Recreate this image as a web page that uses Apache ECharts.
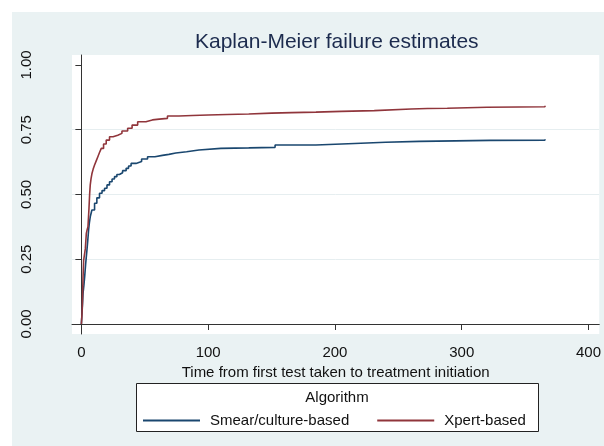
<!DOCTYPE html>
<html>
<head>
<meta charset="utf-8">
<script src="https://cdn.jsdelivr.net/npm/echarts@6/dist/echarts.min.js"></script>
<style>
  html, body { margin: 0; padding: 0; background: #fff; }
  #bg { position: absolute; left: 12px; top: 12px; width: 592px; height: 434px; background: #eaf2f3; }
  #main { position: absolute; left: 0; top: 0; width: 604px; height: 446px; }
</style>
</head>
<body>
<div id="bg"></div>
<div id="main"></div>
<script>
// Kaplan-Meier failure estimates (time in days, cumulative failure)
const smearTime = [0, 0.7, 1.3, 2, 2.6, 3.4, 4.4, 5, 5.7, 6.3, 7, 8.3, 10.4, 12.2, 14.3, 16.3, 18.3, 20.2, 22.2, 24.2, 26.1, 28, 30, 32.5, 35.3, 37.2, 39.2, 43.1, 47.5, 52.2, 58, 63.9, 69, 74.5, 83, 92.7, 110, 132, 152.8, 185, 215.5, 240, 266.5, 295, 322.6, 365.7];
const smearProb = [0, 0.06, 0.118, 0.15, 0.183, 0.234, 0.286, 0.32, 0.363, 0.39, 0.414, 0.44, 0.466, 0.487, 0.505, 0.515, 0.524, 0.537, 0.549, 0.56, 0.569, 0.577, 0.584, 0.592, 0.601, 0.61, 0.62, 0.627, 0.637, 0.646, 0.651, 0.655, 0.66, 0.665, 0.672, 0.678, 0.68, 0.682, 0.691, 0.697, 0.702, 0.705, 0.707, 0.709, 0.71, 0.713];
const xpertTime = [0, 0.5, 0.8, 1.3, 1.8, 2.5, 3.1, 3.9, 4.6, 5.2, 6, 6.5, 7, 7.6, 8.3, 9.3, 10.4, 11.7, 13, 14.3, 15.7, 17.5, 19.6, 22.2, 25, 28.7, 32, 36.5, 40, 44.4, 50.9, 56, 61.4, 67.9, 77, 87.5, 100, 115, 132, 150, 165.8, 185, 205, 231, 260, 273, 288.6, 320, 344.8, 365.7];
const xpertProb = [0, 0.04, 0.08, 0.18, 0.247, 0.27, 0.29, 0.35, 0.365, 0.376, 0.447, 0.5, 0.537, 0.56, 0.58, 0.598, 0.614, 0.63, 0.646, 0.662, 0.678, 0.695, 0.71, 0.723, 0.729, 0.736, 0.745, 0.756, 0.768, 0.781, 0.788, 0.791, 0.794, 0.803, 0.805, 0.807, 0.809, 0.811, 0.814, 0.816, 0.818, 0.821, 0.824, 0.83, 0.832, 0.833, 0.837, 0.838, 0.839, 0.843];
const xTicks = [0, 100, 200, 300, 400];
const yTicks = [0, 0.25, 0.5, 0.75, 1];
const seriesNames = ["Smear/culture-based", "Xpert-based"];

function pairs(t, p) {
  return t.map((v, i) => [v, p[i]]);
}

const font = "Liberation Sans, Arial, sans-serif";
const myChart = echarts.init(document.getElementById("main"));

myChart.setOption({
  animation: false,
  color: ["#1a476f", "#90353b"],
  title: {
    text: "Kaplan-Meier failure estimates",
    left: 195,
    top: 32,
    padding: 0,
    textStyle: { fontFamily: font, fontSize: 21, fontWeight: "normal", color: "#1c2b4e" }
  },
  grid: {
    left: 72,
    right: 1,
    top: 55,
    bottom: 112,
    show: true,
    backgroundColor: "#fff",
    borderWidth: 0
  },
  xAxis: {
    type: "value",
    min: -7.4,
    max: 408.5,
    name: "Time from first test taken to treatment initiation",
    nameLocation: "middle",
    nameGap: 23,
    nameTextStyle: { fontFamily: font, fontSize: 15, color: "#111" },
    axisLine: { lineStyle: { color: "#333", width: 1 } },
    axisTick: { customValues: xTicks, length: 6, lineStyle: { color: "#333" } },
    axisLabel: {
      customValues: xTicks,
      margin: 11,
      fontFamily: font,
      fontSize: 15,
      color: "#111"
    },
    splitLine: { show: false }
  },
  yAxis: {
    type: "value",
    min: -0.0386,
    max: 1.0386,
    axisLine: { show: true, lineStyle: { color: "#333", width: 1 } },
    axisTick: { show: true, customValues: yTicks, length: 6, lineStyle: { color: "#333" } },
    axisLabel: {
      customValues: yTicks,
      rotate: 90,
      margin: 38,
      fontFamily: font,
      fontSize: 15,
      color: "#111",
      formatter: v => v.toFixed(2)
    },
    splitLine: {
      show: true,
      lineStyle: { color: ["#e6eef0", "#e6eef0", "#e6eef0", "#e6eef0", "rgba(0,0,0,0)"], width: 1 }
    }
  },
  legend: {
    data: seriesNames,
    left: 143,
    top: 413,
    padding: 0,
    itemWidth: 57,
    itemHeight: 2,
    itemGap: 28,
    icon: "rect",
    z: 5,
    textStyle: { fontFamily: font, fontSize: 15, color: "#111", padding: [0, 0, 0, 5] }
  },
  graphic: [
    {
      type: "rect",
      z: 1,
      shape: { x: 136.5, y: 383.5, width: 402, height: 48 },
      style: { fill: "#fff", stroke: "#222", lineWidth: 1 }
    },
    {
      type: "text",
      z: 2,
      x: 337,
      y: 398,
      style: {
        text: "Algorithm",
        fontFamily: font,
        fontSize: 15,
        fill: "#111",
        textAlign: "center",
        textVerticalAlign: "middle"
      }
    }
  ],
  series: [
    {
      name: seriesNames[0],
      type: "line",
      step: "end",
      showSymbol: false,
      data: pairs(smearTime, smearProb),
      lineStyle: { width: 1.6 }
    },
    {
      name: seriesNames[1],
      type: "line",
      step: "end",
      showSymbol: false,
      data: pairs(xpertTime, xpertProb),
      lineStyle: { width: 1.6 }
    }
  ]
});
</script>
</body>
</html>
